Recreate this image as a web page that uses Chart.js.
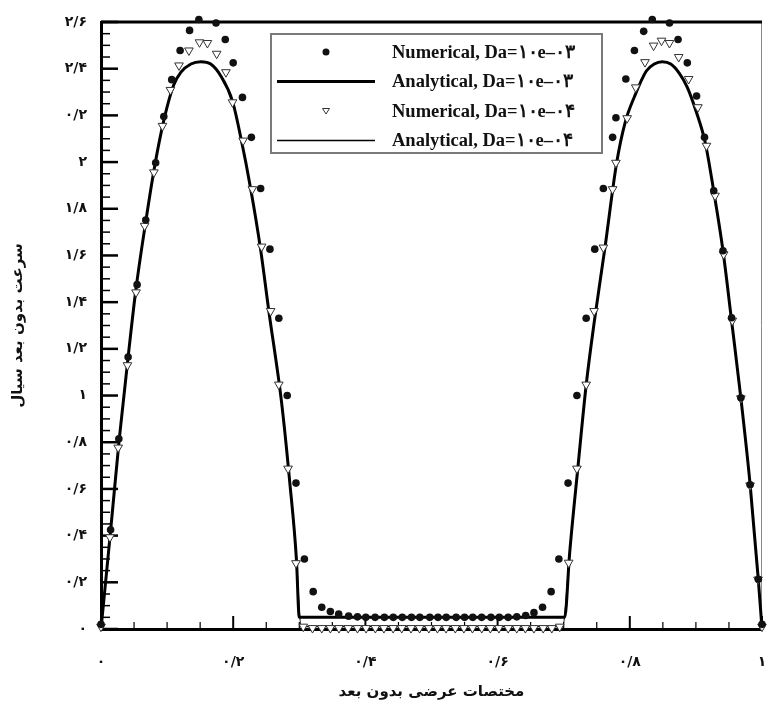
<!DOCTYPE html>
<html>
<head>
<meta charset="utf-8">
<script src="https://cdn.jsdelivr.net/npm/chart.js@4.4.1/dist/chart.umd.min.js"></script>
<style>
  html, body { margin: 0; padding: 0; background: #fff; }
  #wrap { width: 768px; height: 707px; }
</style>
</head>
<body>
<div id="wrap"><canvas id="chart" width="768" height="707"></canvas></div>
<script>
const xTickValues = [0, 0.2, 0.4, 0.6, 0.8, 1];
const xTickLabels = ["۰", "۰/۲", "۰/۴", "۰/۶", "۰/۸", "۱"];
const yTickValues = [0, 0.2, 0.4, 0.6, 0.8, 1, 1.2, 1.4, 1.6, 1.8, 2, 2.2, 2.4, 2.6];
const yTickLabels = ["۰", "۰/۲", "۰/۴", "۰/۶", "۰/۸", "۱", "۱/۲", "۱/۴", "۱/۶", "۱/۸", "۲", "۰/۲", "۲/۴", "۲/۶"];

const xTitle = "مختصات عرضی بدون بعد";
const yTitle = "سرعت بدون بعد سیال";
const seriesLabels = [
  "Numerical, Da=۱۰e–۰۳",
  "Analytical, Da=۱۰e–۰۳",
  "Numerical, Da=۱۰e–۰۴",
  "Analytical, Da=۱۰e–۰۴"
];

// numerical, Da=1e-3 (filled dots)
const numX3 = [
  0, 0.0145, 0.027, 0.041, 0.0546,
  0.0677, 0.0827, 0.095, 0.107, 0.1197,
  0.134, 0.148, 0.161, 0.174, 0.188,
  0.2, 0.214, 0.2275, 0.2415, 0.2556,
  0.269, 0.2817, 0.295, 0.3077, 0.321,
  0.334, 0.347, 0.3596, 0.3746, 0.388,
  0.4006, 0.4147, 0.4287, 0.4422, 0.4558,
  0.4697, 0.4823, 0.4974, 0.5098, 0.5223,
  0.5373, 0.55, 0.5624, 0.5759, 0.5899,
  0.6026, 0.616,
  0.629, 0.6425, 0.655, 0.668, 0.681,
  0.6927, 0.7066, 0.72, 0.734, 0.747,
  0.76, 0.774, 0.779, 0.794, 0.807,
  0.821, 0.834, 0.847, 0.86, 0.873,
  0.887, 0.901, 0.913, 0.927, 0.941,
  0.954, 0.968, 0.982, 0.9944, 1
];
const numY3 = [
  0.02, 0.425, 0.815, 1.165, 1.475,
  1.752, 1.997, 2.195, 2.353, 2.478,
  2.564, 2.611, 2.625, 2.596, 2.525,
  2.425, 2.277, 2.106, 1.887, 1.627,
  1.331, 1.0, 0.625, 0.3, 0.16,
  0.093, 0.075, 0.064, 0.055, 0.052,
  0.05, 0.05, 0.05, 0.05, 0.05,
  0.05, 0.05, 0.05, 0.05, 0.05,
  0.05, 0.05, 0.05, 0.05, 0.05,
  0.05, 0.05,
  0.052, 0.058, 0.07, 0.093, 0.16,
  0.3, 0.625, 1.0, 1.331, 1.627,
  1.887, 2.106, 2.19, 2.356, 2.478,
  2.56, 2.611, 2.625, 2.596, 2.525,
  2.425, 2.283, 2.106, 1.877, 1.62,
  1.333, 0.99, 0.618, 0.213, 0.02
];

// analytical, Da=1e-3 (thick line)
const anaX3 = [
  0, 0.0145, 0.0275, 0.042, 0.0526,
  0.0677, 0.082, 0.096, 0.11, 0.121,
  0.136, 0.151, 0.166, 0.181, 0.199,
  0.2115, 0.2265, 0.2415, 0.254, 0.273,
  0.2857, 0.2956, 0.3, 0.7015, 0.709,
  0.7216, 0.734, 0.7467, 0.762, 0.78,
  0.793, 0.807, 0.825, 0.837, 0.849,
  0.862, 0.875, 0.887, 0.9, 0.914,
  0.927, 0.941, 0.954, 0.968, 0.982,
  0.9944, 1
];
const anaY3 = [
  0, 0.42, 0.81, 1.19, 1.45,
  1.745, 1.995, 2.19, 2.33, 2.385,
  2.42, 2.43, 2.42, 2.37, 2.26,
  2.105, 1.885, 1.625, 1.36, 0.975,
  0.625, 0.3, 0.05, 0.05, 0.325,
  0.695, 1.045, 1.325, 1.625, 1.995,
  2.17, 2.28, 2.39, 2.42, 2.43,
  2.42, 2.38, 2.32, 2.22, 2.085,
  1.875, 1.62, 1.32, 0.99, 0.62,
  0.213, 0
];

// numerical, Da=1e-4 (open triangles)
const numX4 = [
  0, 0.0135, 0.026, 0.04, 0.053,
  0.066, 0.08, 0.093, 0.105, 0.118,
  0.133, 0.149, 0.161, 0.175, 0.189,
  0.199, 0.215, 0.229, 0.243, 0.2566,
  0.269, 0.283, 0.295, 0.306,
  0.32, 0.334, 0.347, 0.36, 0.374,
  0.388, 0.401, 0.415, 0.428, 0.442,
  0.455, 0.469, 0.482, 0.496, 0.509,
  0.522, 0.536, 0.549, 0.562, 0.576,
  0.589, 0.602, 0.616, 0.629, 0.642,
  0.655, 0.669, 0.682,
  0.694, 0.7075, 0.72, 0.734, 0.746,
  0.76, 0.774, 0.779, 0.796, 0.809,
  0.823, 0.836, 0.848, 0.86, 0.874,
  0.889, 0.903, 0.916, 0.929, 0.942,
  0.955, 0.968, 0.982, 0.994, 1
];
const numY4 = [
  0.01, 0.393, 0.777, 1.13, 1.442,
  1.727, 1.956, 2.155, 2.309, 2.414,
  2.478, 2.513, 2.51, 2.464, 2.385,
  2.256, 2.092, 1.884, 1.638, 1.362,
  1.047, 0.687, 0.282, 0.01,
  0.004, 0.004, 0.004, 0.004, 0.004,
  0.004, 0.004, 0.004, 0.004, 0.004,
  0.004, 0.004, 0.004, 0.004, 0.004,
  0.004, 0.004, 0.004, 0.004, 0.004,
  0.004, 0.004, 0.004, 0.004, 0.004,
  0.004, 0.004, 0.004,
  0.01, 0.284, 0.687, 1.047, 1.362,
  1.634, 1.884, 1.997, 2.188, 2.32,
  2.428, 2.499, 2.52, 2.51, 2.45,
  2.356, 2.235, 2.07, 1.856, 1.605,
  1.321, 0.988, 0.615, 0.212, 0.01
];

// analytical, Da=1e-4 (thin line)
const anaX4 = [
  0, 0.0145, 0.0275, 0.042, 0.0526,
  0.0677, 0.082, 0.096, 0.11, 0.121,
  0.136, 0.151, 0.166, 0.181, 0.199,
  0.2115, 0.2265, 0.2415, 0.254, 0.273,
  0.2857, 0.2956, 0.3027, 0.6985, 0.709,
  0.7216, 0.734, 0.7467, 0.762, 0.78,
  0.793, 0.807, 0.825, 0.837, 0.849,
  0.862, 0.875, 0.887, 0.9, 0.914,
  0.927, 0.941, 0.954, 0.968, 0.982,
  0.9944, 1
];
const anaY4 = [
  0, 0.42, 0.81, 1.19, 1.45,
  1.745, 1.995, 2.19, 2.33, 2.385,
  2.42, 2.43, 2.42, 2.37, 2.26,
  2.105, 1.885, 1.625, 1.36, 0.975,
  0.625, 0.3, 0.01, 0.01, 0.325,
  0.695, 1.045, 1.325, 1.625, 1.995,
  2.17, 2.28, 2.39, 2.42, 2.43,
  2.42, 2.38, 2.32, 2.22, 2.085,
  1.875, 1.62, 1.32, 0.99, 0.62,
  0.213, 0
];

function toPoints(xs, ys) {
  return xs.map((x, i) => ({ x: x, y: ys[i] }));
}

Chart.defaults.font.family = '"DejaVu Sans", sans-serif';
Chart.defaults.color = "#111";

// inward ticks on the left and bottom axes, plus the top and right frame
const frameTicks = {
  id: "frameTicks",
  beforeDatasetsDraw(chart) {
    const { ctx, chartArea: a, scales: { x, y } } = chart;
    ctx.save();
    ctx.lineWidth = 1;
    ctx.strokeStyle = "#8a8a8a";
    ctx.beginPath();
    ctx.moveTo(a.right - 0.5, a.top);
    ctx.lineTo(a.right - 0.5, a.bottom);
    ctx.stroke();

    ctx.strokeStyle = "#000";
    ctx.lineWidth = 3;
    ctx.beginPath();
    ctx.moveTo(a.left, a.top);
    ctx.lineTo(a.right, a.top);
    ctx.stroke();

    for (let i = 0; i <= 52; i++) {
      const py = y.getPixelForValue(i * 0.05);
      const major = i % 4 === 0;
      ctx.lineWidth = major ? 2.5 : 1.5;
      ctx.beginPath();
      ctx.moveTo(a.left, py);
      ctx.lineTo(a.left + (major ? 17 : 9), py);
      ctx.stroke();
    }
    for (let i = 0; i <= 20; i++) {
      const px = x.getPixelForValue(i * 0.05);
      const major = i % 4 === 0;
      ctx.lineWidth = major ? 2 : 1.2;
      ctx.beginPath();
      ctx.moveTo(px, a.bottom);
      ctx.lineTo(px, a.bottom - (major ? 13 : 7));
      ctx.stroke();
    }
    ctx.restore();
  }
};

// legend in a framed box inside the plot
const boxLegend = {
  id: "boxLegend",
  afterDraw(chart) {
    const ctx = chart.ctx;
    ctx.save();
    ctx.fillStyle = "#fff";
    ctx.fillRect(271, 34, 331, 119);
    ctx.strokeStyle = "#7a7a7a";
    ctx.lineWidth = 2;
    ctx.strokeRect(271, 34, 331, 119);

    chart.data.datasets.forEach((ds, i) => {
      const cy = 52 + i * 29.5;
      const cx = 326;
      if (ds.showLine) {
        ctx.strokeStyle = ds.borderColor;
        ctx.lineWidth = ds.borderWidth;
        ctx.beginPath();
        ctx.moveTo(277, cy);
        ctx.lineTo(375, cy);
        ctx.stroke();
      } else if (ds.pointStyle === "triangle") {
        ctx.fillStyle = "#fff";
        ctx.strokeStyle = ds.pointBorderColor;
        ctx.lineWidth = 1;
        ctx.beginPath();
        ctx.moveTo(cx - 3.5, cy - 2.5);
        ctx.lineTo(cx + 3.5, cy - 2.5);
        ctx.lineTo(cx, cy + 3);
        ctx.closePath();
        ctx.fill();
        ctx.stroke();
      } else {
        ctx.fillStyle = ds.pointBackgroundColor;
        ctx.beginPath();
        ctx.arc(cx, cy, 3.5, 0, Math.PI * 2);
        ctx.fill();
      }
      ctx.fillStyle = "#111";
      ctx.font = 'bold 18.5px "Liberation Serif", serif';
      ctx.textAlign = "left";
      ctx.textBaseline = "middle";
      ctx.fillText(ds.label, 392, cy + 1);
    });
    ctx.restore();
  }
};

new Chart(document.getElementById("chart"), {
  type: "scatter",
  data: {
    datasets: [
      {
        label: seriesLabels[0],
        data: toPoints(numX3, numY3),
        pointStyle: "circle",
        pointRadius: 3.8,
        pointBackgroundColor: "#111",
        pointBorderColor: "#111",
        pointBorderWidth: 0,
        clip: false,
        order: 0
      },
      {
        label: seriesLabels[1],
        data: toPoints(anaX3, anaY3),
        showLine: true,
        pointRadius: 0,
        borderColor: "#000",
        borderWidth: 3,
        cubicInterpolationMode: "monotone",
        clip: false,
        order: 2
      },
      {
        label: seriesLabels[2],
        data: toPoints(numX4, numY4),
        pointStyle: "triangle",
        pointRotation: 180,
        pointRadius: 5,
        pointBackgroundColor: "#fff",
        pointBorderColor: "#333",
        pointBorderWidth: 1,
        clip: false,
        order: 1
      },
      {
        label: seriesLabels[3],
        data: toPoints(anaX4, anaY4),
        showLine: true,
        pointRadius: 0,
        borderColor: "#000",
        borderWidth: 1.3,
        cubicInterpolationMode: "monotone",
        clip: false,
        order: 3
      }
    ]
  },
  options: {
    responsive: false,
    animation: false,
    layout: { padding: { top: 22, right: 1, left: 0, bottom: 0 } },
    plugins: {
      legend: { display: false },
      tooltip: { enabled: false }
    },
    scales: {
      x: {
        type: "linear",
        min: 0,
        max: 1,
        grid: { display: false, drawTicks: false },
        border: { display: true, color: "#000", width: 3 },
        afterBuildTicks: (s) => { s.ticks = xTickValues.map((v) => ({ value: v })); },
        afterFit: (s) => { s.height = 78; s.paddingLeft = 0; s.paddingRight = 0; },
        ticks: {
          autoSkip: false,
          maxRotation: 0,
          padding: 25,
          color: "#111",
          font: { size: 14, weight: "bold" },
          callback: (v, i) => xTickLabels[i]
        },
        title: {
          display: true,
          text: xTitle,
          color: "#111",
          font: { size: 15, weight: "bold" },
          padding: { top: 0, bottom: 6 }
        }
      },
      y: {
        type: "linear",
        min: 0,
        max: 2.6,
        grid: { display: false, drawTicks: false },
        border: { display: true, color: "#000", width: 3 },
        afterBuildTicks: (s) => { s.ticks = yTickValues.map((v) => ({ value: v })); },
        afterFit: (s) => { s.width = 101; s.paddingTop = 0; s.paddingBottom = 0; },
        ticks: {
          autoSkip: false,
          padding: 14,
          color: "#111",
          font: { size: 14, weight: "bold" },
          callback: (v, i) => yTickLabels[i]
        },
        title: {
          display: true,
          text: yTitle,
          color: "#111",
          font: { size: 15, weight: "bold" },
          padding: { top: 9, bottom: 0 }
        }
      }
    }
  },
  plugins: [frameTicks, boxLegend]
});
</script>
</body>
</html>
